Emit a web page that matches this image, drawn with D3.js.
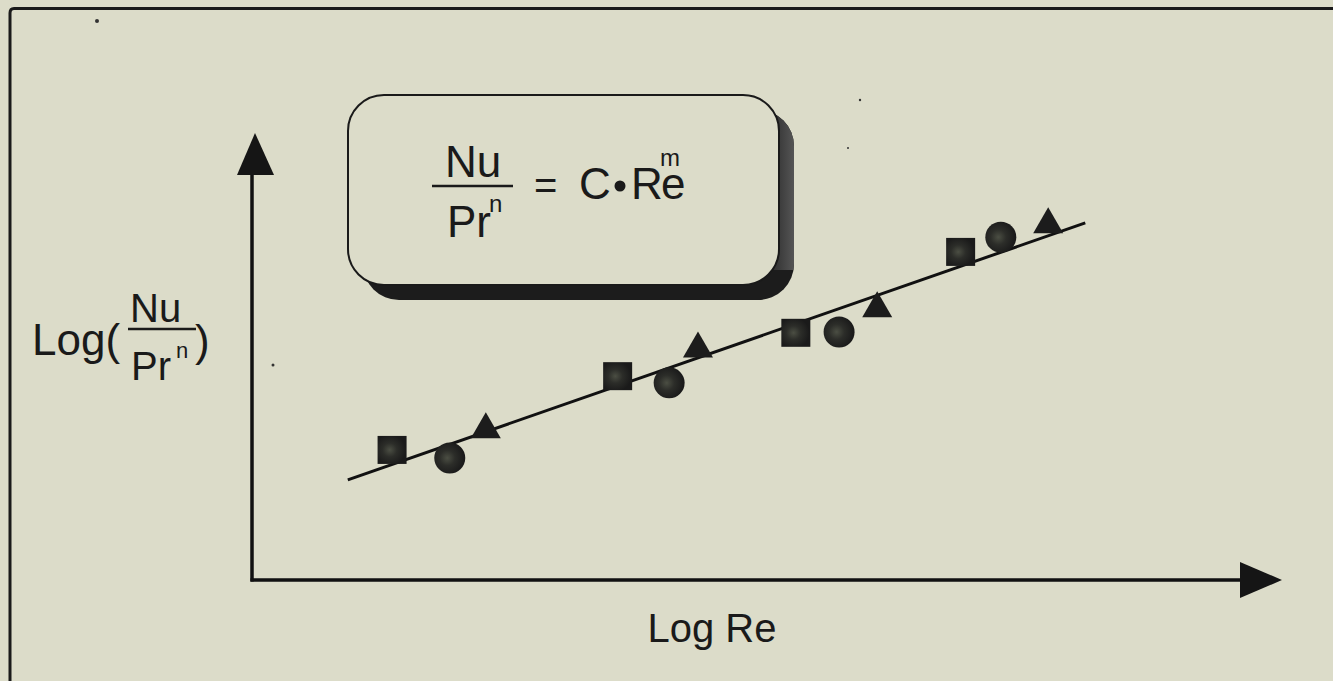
<!DOCTYPE html>
<html>
<head>
<meta charset="utf-8">
<script src="https://cdn.jsdelivr.net/npm/d3@7"></script>
<style>
  html, body { margin: 0; padding: 0; background: #dcdcc9; }
  svg { display: block; }
  text { font-family: "Liberation Sans", Arial, sans-serif; fill: #1a1a1a; }
</style>
</head>
<body>
<svg id="chart" width="1333" height="681"></svg>
<script>
// ---- data (Log Re, Log(Nu/Pr^n)) in arbitrary log units ----
const squares   = [[1.36, 2.91], [3.55, 4.56], [5.28, 5.53], [6.88, 7.34]];
const circles   = [[1.92, 2.73], [4.05, 4.41], [5.70, 5.55], [7.27, 7.67]];
const triangles = [[2.27, 3.46], [4.33, 5.27], [6.07, 6.17], [7.73, 8.05]];
const fitLine   = [[0.93, 2.24], [8.09, 7.99]];
const xLabel = "Log Re";
const yLabelPrefix = "Log(";

const svg = d3.select("#chart");
const W = 1333, H = 681;

const x = d3.scaleLinear().domain([0, 10]).range([252, 1282]);
const y = d3.scaleLinear().domain([0, 10]).range([580, 133]);

const bx = 348, by = 95, bw = 431, bh = 190;

const defs = svg.append("defs");
const rg = defs.append("radialGradient").attr("id", "mottle").attr("cx", "42%").attr("cy", "50%").attr("r", "55%");
rg.append("stop").attr("offset", "0%").attr("stop-color", "#4b4e43");
rg.append("stop").attr("offset", "45%").attr("stop-color", "#2c2d29");
rg.append("stop").attr("offset", "100%").attr("stop-color", "#1a1a1a");
const sg = defs.append("linearGradient").attr("id", "shadowR").attr("x1", "0").attr("x2", "1").attr("y1", "0").attr("y2", "0");
sg.append("stop").attr("offset", "0%").attr("stop-color", "#2a2a2a");
sg.append("stop").attr("offset", "100%").attr("stop-color", "#555");
defs.append("clipPath").attr("id", "shadowClip")
  .append("rect").attr("x", bx + 15).attr("y", by + 15).attr("width", bw).attr("height", bh).attr("rx", 36);

// background
svg.append("rect").attr("width", W).attr("height", H).attr("fill", "#dcdcc9");

// frame (top and left edges)
svg.append("path")
  .attr("d", `M${1333},8.5 L14,8.5 Q10,8.5 10,13 L10,${H}`)
  .attr("fill", "none").attr("stroke", "#1a1a1a").attr("stroke-width", 3);

// specks
[[97, 21, 2], [273, 365, 1.5], [860, 100, 1.2], [848, 148, 1]].forEach(([cx, cy, r]) => {
  svg.append("circle").attr("cx", cx).attr("cy", cy).attr("r", r).attr("fill", "#333");
});

// axes
const xAxisY = y(0), yAxisX = x(0);
svg.append("line")
  .attr("x1", yAxisX).attr("x2", yAxisX)
  .attr("y1", 170).attr("y2", xAxisY + 1.5)
  .attr("stroke", "#111").attr("stroke-width", 3.5);
svg.append("line")
  .attr("x1", yAxisX - 1.5).attr("x2", 1245)
  .attr("y1", xAxisY).attr("y2", xAxisY)
  .attr("stroke", "#111").attr("stroke-width", 3.5);
// arrowheads
svg.append("path")
  .attr("d", `M${yAxisX + 3},133 L${yAxisX + 22},175 L${yAxisX - 15},175 Z`)
  .attr("fill", "#151515");
svg.append("path")
  .attr("d", `M1282,${xAxisY} L1240,${xAxisY - 18} L1240,${xAxisY + 18} Z`)
  .attr("fill", "#151515");

// axis labels
svg.append("text").attr("x", 712).attr("y", xAxisY + 62)
  .attr("text-anchor", "middle").attr("font-size", 40).text(xLabel);

const yl = svg.append("g");
yl.append("text").attr("x", 32).attr("y", 355).attr("font-size", 44).text(yLabelPrefix);
yl.append("text").attr("x", 130).attr("y", 322).attr("font-size", 40).text("Nu");
yl.append("line").attr("x1", 128).attr("x2", 196).attr("y1", 329).attr("y2", 329)
  .attr("stroke", "#1a1a1a").attr("stroke-width", 2.5);
yl.append("text").attr("x", 131).attr("y", 380).attr("font-size", 40).text("Pr");
yl.append("text").attr("x", 176).attr("y", 358).attr("font-size", 22).text("n");
yl.append("text").attr("x", 195).attr("y", 356).attr("font-size", 44).text(")");

// formula box
svg.append("rect").attr("x", bx + 15).attr("y", by + 15).attr("width", bw).attr("height", bh)
  .attr("rx", 36).attr("fill", "#1c1c1c");
svg.append("rect").attr("x", bx + bw - 10).attr("y", by + 15).attr("width", 25).attr("height", bh - 30)
  .attr("fill", "url(#shadowR)").attr("clip-path", "url(#shadowClip)");
svg.append("rect").attr("x", bx).attr("y", by).attr("width", bw).attr("height", bh)
  .attr("rx", 36).attr("fill", "#dcdcc9").attr("stroke", "#1a1a1a").attr("stroke-width", 2);

const fg = svg.append("g");
fg.append("text").attr("x", 473).attr("y", 177).attr("text-anchor", "middle").attr("font-size", 44).text("Nu");
fg.append("line").attr("x1", 432).attr("x2", 513).attr("y1", 186).attr("y2", 186)
  .attr("stroke", "#1a1a1a").attr("stroke-width", 2.5);
fg.append("text").attr("x", 447).attr("y", 237).attr("font-size", 44).text("Pr");
fg.append("text").attr("x", 489).attr("y", 212).attr("font-size", 24).text("n");
fg.append("text").attr("x", 534).attr("y", 199).attr("font-size", 40).text("=");
fg.append("text").attr("x", 579).attr("y", 199).attr("font-size", 44).text("C");
fg.append("circle").attr("cx", 620).attr("cy", 186).attr("r", 5.5).attr("fill", "#1a1a1a");
fg.append("text").attr("x", 631).attr("y", 199).attr("font-size", 44).text("R");
fg.append("text").attr("x", 661).attr("y", 199).attr("font-size", 44).text("e");
fg.append("text").attr("x", 660).attr("y", 166).attr("font-size", 24).text("m");

// fit line
svg.append("path")
  .datum(fitLine)
  .attr("d", d3.line().x(d => x(d[0])).y(d => y(d[1])))
  .attr("fill", "none").attr("stroke", "#111").attr("stroke-width", 3);

// markers
const mk = svg.append("g");
mk.selectAll("rect.sq").data(squares).enter().append("rect")
  .attr("x", d => x(d[0]) - 14.5).attr("y", d => y(d[1]) - 14)
  .attr("width", 29).attr("height", 28).attr("fill", "url(#mottle)");
mk.selectAll("circle.ci").data(circles).enter().append("circle")
  .attr("cx", d => x(d[0])).attr("cy", d => y(d[1])).attr("r", 15.5).attr("fill", "url(#mottle)");
mk.selectAll("path.tr").data(triangles).enter().append("path")
  .attr("d", d => {
    const cx = x(d[0]), cy = y(d[1]);
    return `M${cx},${cy - 13} L${cx + 15},${cy + 13} L${cx - 15},${cy + 13} Z`;
  })
  .attr("fill", "#1c1c1c");
</script>
</body>
</html>
